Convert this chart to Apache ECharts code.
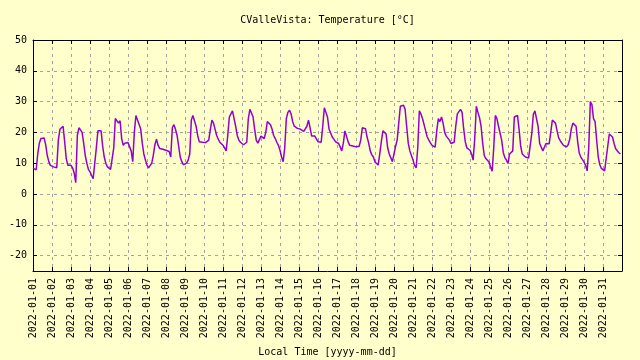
<!DOCTYPE html>
<html><head><meta charset="utf-8">
<script src="https://cdn.jsdelivr.net/npm/echarts@6/dist/echarts.min.js"></script>
<style>html,body{margin:0;padding:0;background:#ffffcc}#c{width:640px;height:360px}</style>
</head><body><div id="c"></div><script>
// Two-hourly temperature readings [°C], 12 per day, starting 00:00 local time
const day01 = [8.4, 8.2, 7.8, 13.0, 16.5, 18.0, 18.4, 18.2, 16.0, 12.5, 10.5, 9.3];
const day02 = [9.2, 8.8, 8.4, 8.5, 17.5, 21.0, 20.8, 22.0, 17.0, 11.5, 9.3, 9.5];
const day03 = [9.3, 8.5, 6.8, 3.7, 19.0, 21.5, 20.8, 20.0, 16.5, 12.5, 10.0, 8.0];
const day04 = [7.2, 6.0, 5.0, 4.5, 15.0, 20.5, 20.8, 20.5, 15.5, 12.0, 10.0, 8.8];
const day05 = [8.6, 8.0, 7.5, 15.0, 24.5, 24.0, 23.0, 23.8, 18.0, 15.8, 16.5, 16.8];
const day06 = [16.7, 17.0, 14.0, 10.5, 20.0, 25.5, 24.0, 23.5, 21.2, 16.5, 13.0, 11.0];
const day07 = [9.4, 8.5, 8.5, 10.0, 12.6, 16.0, 17.8, 15.8, 14.8, 14.5, 14.5, 14.4];
const day08 = [14.2, 14.3, 13.8, 12.0, 21.5, 22.5, 21.0, 19.0, 15.5, 12.0, 10.5, 9.5];
const day09 = [9.6, 10.0, 11.0, 13.0, 24.0, 25.5, 25.5, 22.0, 19.0, 17.0, 16.8, 16.8];
const day10 = [16.7, 16.7, 16.9, 17.5, 21.0, 24.0, 23.0, 21.0, 19.0, 17.8, 16.8, 16.2];
const day11 = [15.8, 15.0, 14.0, 19.0, 25.0, 26.0, 27.0, 24.5, 22.0, 19.0, 17.5, 16.8];
const day12 = [16.4, 16.0, 15.8, 16.8, 24.5, 27.5, 28.0, 25.0, 21.0, 17.5, 16.5, 17.0];
const day13 = [18.8, 18.8, 18.0, 20.0, 23.5, 23.8, 22.5, 21.0, 19.0, 18.0, 16.8, 15.8];
const day14 = [14.2, 12.0, 10.5, 15.0, 24.5, 26.5, 27.2, 26.0, 23.5, 22.0, 21.5, 21.3];
const day15 = [21.2, 21.0, 20.8, 20.3, 19.8, 22.0, 24.0, 21.5, 18.8, 19.0, 18.8, 18.5];
const day16 = [17.0, 16.8, 16.8, 22.0, 28.0, 26.5, 25.0, 21.0, 19.8, 18.5, 17.8, 17.0];
const day17 = [16.9, 16.4, 15.3, 14.0, 16.5, 20.5, 20.2, 17.0, 15.8, 15.6, 15.6, 15.5];
const day18 = [15.3, 15.0, 15.5, 17.5, 21.5, 21.0, 21.2, 18.5, 16.5, 14.0, 12.7, 12.0];
const day19 = [10.4, 10.0, 9.4, 13.0, 17.0, 20.5, 20.7, 19.5, 15.0, 13.0, 12.5, 10.5];
const day20 = [10.0, 15.5, 17.5, 23.0, 28.5, 28.3, 28.8, 27.5, 22.0, 16.5, 14.0, 12.5];
const day21 = [11.0, 9.3, 8.5, 15.0, 27.0, 26.0, 24.5, 24.0, 20.5, 18.5, 17.5, 16.6];
const day22 = [15.8, 15.8, 15.2, 20.5, 24.5, 23.5, 25.0, 23.0, 20.0, 18.8, 18.3, 17.5];
const day23 = [16.4, 16.4, 16.8, 22.0, 26.0, 26.5, 27.5, 26.5, 21.2, 17.0, 15.0, 15.0];
const day24 = [14.2, 13.0, 11.0, 18.0, 28.5, 26.5, 24.8, 22.0, 16.5, 12.5, 11.5, 11.3];
const day25 = [10.4, 8.8, 7.4, 15.0, 25.5, 24.5, 22.0, 21.5, 17.5, 13.5, 11.8, 11.0];
const day26 = [9.9, 13.0, 13.3, 14.0, 25.0, 25.0, 25.5, 21.0, 15.5, 13.0, 12.4, 12.0];
const day27 = [11.8, 11.7, 11.6, 19.5, 25.8, 27.0, 26.5, 22.0, 16.4, 17.0, 14.0, 13.8];
const day28 = [16.4, 16.9, 16.3, 20.0, 24.0, 24.3, 23.0, 20.5, 18.2, 17.3, 16.7, 15.8];
const day29 = [15.3, 15.3, 16.0, 17.8, 21.2, 23.0, 23.2, 22.0, 17.0, 13.3, 12.0, 11.5];
const day30 = [10.4, 9.3, 7.5, 15.0, 30.0, 29.0, 24.5, 23.5, 17.5, 12.0, 9.5, 8.3];
const day31 = [7.7, 7.5, 7.7, 15.5, 19.5, 20.0, 18.5, 16.4, 14.7, 14.2, 13.4, 13.0];
const days = [day01, day02, day03, day04, day05, day06, day07, day08, day09, day10,
  day11, day12, day13, day14, day15, day16, day17, day18, day19, day20,
  day21, day22, day23, day24, day25, day26, day27, day28, day29, day30, day31];

const dayLabels = ['2022-01-01','2022-01-02','2022-01-03','2022-01-04','2022-01-05','2022-01-06',
  '2022-01-07','2022-01-08','2022-01-09','2022-01-10','2022-01-11','2022-01-12','2022-01-13',
  '2022-01-14','2022-01-15','2022-01-16','2022-01-17','2022-01-18','2022-01-19','2022-01-20',
  '2022-01-21','2022-01-22','2022-01-23','2022-01-24','2022-01-25','2022-01-26','2022-01-27',
  '2022-01-28','2022-01-29','2022-01-30','2022-01-31'];
const yTicks = [-20, -10, 0, 10, 20, 30, 40, 50];

const titleText = 'CValleVista: Temperature [°C]';
const xTitle = 'Local Time [yyyy-mm-dd]';

const DAY = 86400000, HOUR = 3600000, STEP = 2;
const t0 = Date.UTC(2022, 0, 1);
const data = [];
days.forEach((vals, d) => vals.forEach((v, i) => data.push([t0 + d * DAY + i * STEP * HOUR, v])));

const FONT = 'DejaVu Sans Mono';
const gridDash = {show: true, lineStyle: {color: '#a0a0a0', type: [3, 4], width: 1}};
const axLine = {show: true, onZero: false, lineStyle: {color: '#000', width: 1}};
const tick = {show: true, inside: true, length: 4, lineStyle: {color: '#000', width: 1}};

const chart = echarts.init(document.getElementById('c'), null, {renderer: 'canvas'});
chart.setOption({
  backgroundColor: '#ffffcc',
  animation: false,
  grid: {left: 33, right: 18, top: 40, bottom: 89, containLabel: false},
  xAxis: [{
    type: 'value', min: t0, max: t0 + 31 * DAY, interval: DAY,
    axisLine: axLine, axisTick: tick, splitLine: gridDash,
    axisLabel: {rotate: 90, margin: 7, color: '#000', fontFamily: FONT, fontSize: 10,
      formatter: v => dayLabels[Math.round((v - t0) / DAY)] || ''}
  }, {
    type: 'value', position: 'top', min: t0, max: t0 + 31 * DAY, interval: DAY,
    axisLine: axLine, axisTick: tick, splitLine: {show: false}, axisLabel: {show: false}
  }],
  yAxis: [{
    type: 'value', min: -25, max: 50,
    axisLine: axLine,
    axisTick: Object.assign({customValues: yTicks}, tick),
    splitLine: gridDash,
    axisLabel: {customValues: yTicks, margin: 6, color: '#000', fontFamily: FONT, fontSize: 10}
  }, {
    type: 'value', position: 'right', min: -25, max: 50,
    axisLine: axLine,
    axisTick: Object.assign({customValues: yTicks}, tick),
    splitLine: {show: false}, axisLabel: {show: false}
  }],
  graphic: [
    {type: 'text', x: 327.5, y: 20, silent: true,
      style: {text: titleText, fill: '#000', font: '10px "' + FONT + '"', align: 'center', verticalAlign: 'middle', textAlign: 'center', textVerticalAlign: 'middle'}},
    {type: 'text', x: 327.5, y: 352, silent: true,
      style: {text: xTitle, fill: '#000', font: '10px "' + FONT + '"', align: 'center', verticalAlign: 'middle', textAlign: 'center', textVerticalAlign: 'middle'}}
  ],
  series: [{
    type: 'line', data: data, xAxisIndex: 0, yAxisIndex: 0,
    showSymbol: false, symbol: 'none',
    lineStyle: {color: '#9400d3', width: 1.5}, z: 5
  }]
});
</script></body></html>
